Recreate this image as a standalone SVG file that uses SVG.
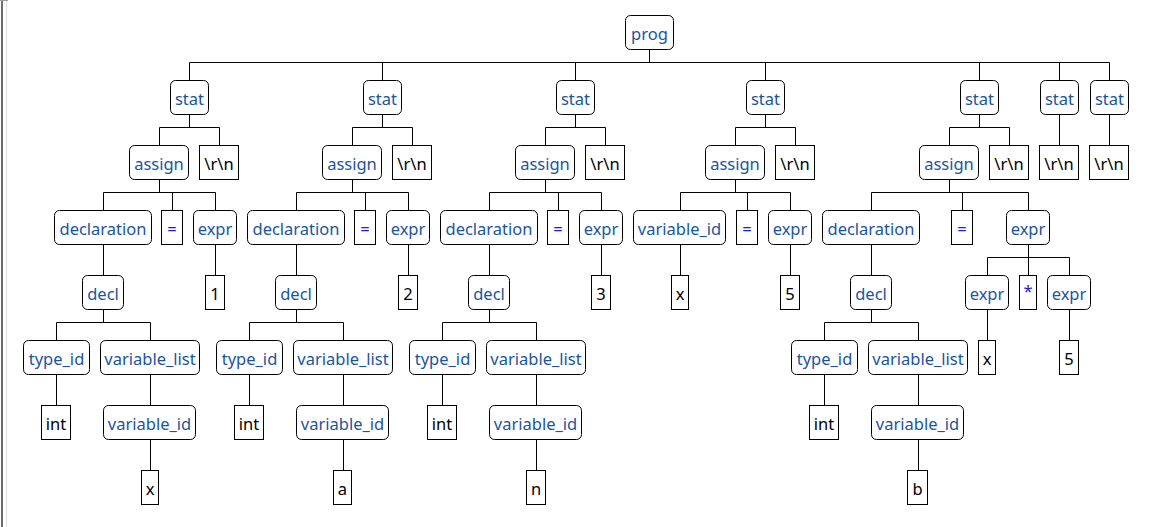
<svg xmlns="http://www.w3.org/2000/svg" width="1173" height="527" viewBox="0 0 1173 527">
<style>
.r{fill:#fff;stroke:#000;stroke-width:1}
.t{fill:#fff;stroke:#000;stroke-width:1}
text{font-family:"Noto Sans","Open Sans",sans-serif;font-size:16.5px;text-anchor:middle}
.rt{fill:#1a559e}
.tt{fill:#000}
.op{fill:#1a1ae6}
#connectors path{fill:none;stroke:#000;stroke-width:1}
</style>
<rect x="0" y="0" width="1173" height="527" fill="#fff"/>
<g id="frame">
<rect x="1" y="0" width="2" height="527" fill="#6e6e6e"/>
<rect x="6" y="0" width="1" height="527" fill="#e0e0e0"/>
<rect x="0" y="0" width="8" height="1" fill="#a0a0a0"/>
</g>
<g id="connectors">
<path d="M649.5 49.5V62.5M189.5 62.5H1109.5M189.5 62.5V80.5M382.5 62.5V80.5M575.5 62.5V80.5M765.5 62.5V80.5M979.5 62.5V80.5M1059.5 62.5V80.5M1109.5 62.5V80.5"/>
<path d="M189.5 114.5V127.5M159.5 127.5H219.5M159.5 127.5V145.5M219.5 127.5V145.5"/>
<path d="M382.5 114.5V127.5M352.5 127.5H412.5M352.5 127.5V145.5M412.5 127.5V145.5"/>
<path d="M575.5 114.5V127.5M545.5 127.5H605.5M545.5 127.5V145.5M605.5 127.5V145.5"/>
<path d="M765.5 114.5V127.5M735.5 127.5H795.5M735.5 127.5V145.5M795.5 127.5V145.5"/>
<path d="M979.5 114.5V127.5M949.5 127.5H1009.5M949.5 127.5V145.5M1009.5 127.5V145.5"/>
<path d="M1059.5 114.5V145.5M1109.5 114.5V145.5"/>
<path d="M159.5 179.5V192.5M103.5 192.5H215.5M103.5 192.5V210.5M172.5 192.5V210.5M215.5 192.5V210.5"/>
<path d="M352.5 179.5V192.5M296.5 192.5H408.5M296.5 192.5V210.5M365.5 192.5V210.5M408.5 192.5V210.5"/>
<path d="M545.5 179.5V192.5M489.5 192.5H601.5M489.5 192.5V210.5M558.5 192.5V210.5M601.5 192.5V210.5"/>
<path d="M735.5 179.5V192.5M680.5 192.5H790.5M680.5 192.5V210.5M747.5 192.5V210.5M790.5 192.5V210.5"/>
<path d="M949.5 179.5V192.5M871.5 192.5H1028.5M871.5 192.5V210.5M962.5 192.5V210.5M1028.5 192.5V210.5"/>
<path d="M103.5 244.5V275.5M215.5 244.5V275.5M296.5 244.5V275.5M408.5 244.5V275.5M489.5 244.5V275.5M601.5 244.5V275.5M680.5 244.5V275.5M790.5 244.5V275.5M871.5 244.5V275.5"/>
<path d="M1028.5 244.5V257.5M987.5 257.5H1069.5M987.5 257.5V275.5M1028.5 257.5V275.5M1069.5 257.5V275.5"/>
<path d="M103.5 309.5V322.5M56.5 322.5H150.5M56.5 322.5V340.5M150.5 322.5V340.5"/>
<path d="M296.5 309.5V322.5M249.5 322.5H343.5M249.5 322.5V340.5M343.5 322.5V340.5"/>
<path d="M489.5 309.5V322.5M442.5 322.5H536.5M442.5 322.5V340.5M536.5 322.5V340.5"/>
<path d="M871.5 309.5V322.5M824.5 322.5H918.5M824.5 322.5V340.5M918.5 322.5V340.5"/>
<path d="M987.5 309.5V340.5M1069.5 309.5V340.5"/>
<path d="M56.5 374.5V405.5M150.5 374.5V405.5M249.5 374.5V405.5M343.5 374.5V405.5M442.5 374.5V405.5M536.5 374.5V405.5M824.5 374.5V405.5M918.5 374.5V405.5"/>
<path d="M150.5 439.5V470.5M343.5 439.5V470.5M536.5 439.5V470.5M918.5 439.5V470.5"/>
</g>
<g id="prog"><rect class="r" x="625.5" y="15.5" width="48" height="34" rx="5"/><text class="rt" x="649.5" y="40">prog</text></g>
<g id="stat1"><rect class="r" x="170.5" y="80.5" width="38" height="34" rx="5"/><text class="rt" x="189.5" y="105">stat</text></g>
<g id="stat2"><rect class="r" x="363.5" y="80.5" width="38" height="34" rx="5"/><text class="rt" x="382.5" y="105">stat</text></g>
<g id="stat3"><rect class="r" x="556.5" y="80.5" width="38" height="34" rx="5"/><text class="rt" x="575.5" y="105">stat</text></g>
<g id="stat4"><rect class="r" x="746.5" y="80.5" width="38" height="34" rx="5"/><text class="rt" x="765.5" y="105">stat</text></g>
<g id="stat5"><rect class="r" x="960.5" y="80.5" width="38" height="34" rx="5"/><text class="rt" x="979.5" y="105">stat</text></g>
<g id="stat6"><rect class="r" x="1040.5" y="80.5" width="38" height="34" rx="5"/><text class="rt" x="1059.5" y="105">stat</text></g>
<g id="stat7"><rect class="r" x="1090.5" y="80.5" width="38" height="34" rx="5"/><text class="rt" x="1109.5" y="105">stat</text></g>
<g id="assign1"><rect class="r" x="129.5" y="145.5" width="59" height="34" rx="5"/><text class="rt" x="159" y="170">assign</text></g>
<g id="nl1"><rect class="t" x="199.5" y="145.5" width="39" height="34"/><text class="tt" x="219" y="170">\r\n</text></g>
<g id="assign2"><rect class="r" x="322.5" y="145.5" width="59" height="34" rx="5"/><text class="rt" x="352" y="170">assign</text></g>
<g id="nl2"><rect class="t" x="392.5" y="145.5" width="39" height="34"/><text class="tt" x="412" y="170">\r\n</text></g>
<g id="assign3"><rect class="r" x="515.5" y="145.5" width="59" height="34" rx="5"/><text class="rt" x="545" y="170">assign</text></g>
<g id="nl3"><rect class="t" x="585.5" y="145.5" width="39" height="34"/><text class="tt" x="605" y="170">\r\n</text></g>
<g id="assign4"><rect class="r" x="705.5" y="145.5" width="59" height="34" rx="5"/><text class="rt" x="735" y="170">assign</text></g>
<g id="nl4"><rect class="t" x="775.5" y="145.5" width="39" height="34"/><text class="tt" x="795" y="170">\r\n</text></g>
<g id="assign5"><rect class="r" x="919.5" y="145.5" width="59" height="34" rx="5"/><text class="rt" x="949" y="170">assign</text></g>
<g id="nl5"><rect class="t" x="989.5" y="145.5" width="39" height="34"/><text class="tt" x="1009" y="170">\r\n</text></g>
<g id="nl6"><rect class="t" x="1039.5" y="145.5" width="39" height="34"/><text class="tt" x="1059" y="170">\r\n</text></g>
<g id="nl7"><rect class="t" x="1089.5" y="145.5" width="39" height="34"/><text class="tt" x="1109" y="170">\r\n</text></g>
<g id="declaration1"><rect class="r" x="54.5" y="210.5" width="97" height="34" rx="5"/><text class="rt" x="103" y="235">declaration</text></g>
<g id="eq1"><rect class="t" x="161.5" y="210.5" width="21" height="34"/><text class="op" x="172" y="235">=</text></g>
<g id="expr1"><rect class="r" x="193.5" y="210.5" width="43" height="34" rx="5"/><text class="rt" x="215" y="235">expr</text></g>
<g id="declaration2"><rect class="r" x="247.5" y="210.5" width="97" height="34" rx="5"/><text class="rt" x="296" y="235">declaration</text></g>
<g id="eq2"><rect class="t" x="354.5" y="210.5" width="21" height="34"/><text class="op" x="365" y="235">=</text></g>
<g id="expr2"><rect class="r" x="386.5" y="210.5" width="43" height="34" rx="5"/><text class="rt" x="408" y="235">expr</text></g>
<g id="declaration3"><rect class="r" x="440.5" y="210.5" width="97" height="34" rx="5"/><text class="rt" x="489" y="235">declaration</text></g>
<g id="eq3"><rect class="t" x="547.5" y="210.5" width="21" height="34"/><text class="op" x="558" y="235">=</text></g>
<g id="expr3"><rect class="r" x="579.5" y="210.5" width="43" height="34" rx="5"/><text class="rt" x="601" y="235">expr</text></g>
<g id="variable_id4"><rect class="r" x="633.5" y="210.5" width="92" height="34" rx="5"/><text class="rt" x="679.5" y="235">variable_id</text></g>
<g id="eq4"><rect class="t" x="736.5" y="210.5" width="21" height="34"/><text class="op" x="747" y="235">=</text></g>
<g id="expr4"><rect class="r" x="768.5" y="210.5" width="43" height="34" rx="5"/><text class="rt" x="790" y="235">expr</text></g>
<g id="declaration5"><rect class="r" x="822.5" y="210.5" width="97" height="34" rx="5"/><text class="rt" x="871" y="235">declaration</text></g>
<g id="eq5"><rect class="t" x="951.5" y="210.5" width="21" height="34"/><text class="op" x="962" y="235">=</text></g>
<g id="expr5"><rect class="r" x="1006.5" y="210.5" width="43" height="34" rx="5"/><text class="rt" x="1028" y="235">expr</text></g>
<g id="decl1"><rect class="r" x="82.5" y="275.5" width="41" height="34" rx="5"/><text class="rt" x="103" y="300">decl</text></g>
<g id="num1"><rect class="t" x="205.5" y="275.5" width="19" height="34"/><text class="tt" x="215" y="300">1</text></g>
<g id="decl2"><rect class="r" x="275.5" y="275.5" width="41" height="34" rx="5"/><text class="rt" x="296" y="300">decl</text></g>
<g id="num2"><rect class="t" x="398.5" y="275.5" width="19" height="34"/><text class="tt" x="408" y="300">2</text></g>
<g id="decl3"><rect class="r" x="468.5" y="275.5" width="41" height="34" rx="5"/><text class="rt" x="489" y="300">decl</text></g>
<g id="num3"><rect class="t" x="591.5" y="275.5" width="19" height="34"/><text class="tt" x="601" y="300">3</text></g>
<g id="x4"><rect class="t" x="671.5" y="275.5" width="17" height="34"/><text class="tt" x="680" y="300">x</text></g>
<g id="num5a"><rect class="t" x="780.5" y="275.5" width="19" height="34"/><text class="tt" x="790" y="300">5</text></g>
<g id="decl5"><rect class="r" x="850.5" y="275.5" width="41" height="34" rx="5"/><text class="rt" x="871" y="300">decl</text></g>
<g id="expr6"><rect class="r" x="965.5" y="275.5" width="43" height="34" rx="5"/><text class="rt" x="987" y="300">expr</text></g>
<g id="mul"><rect class="t" x="1019.5" y="275.5" width="17" height="34"/><text class="op" x="1028" y="297">*</text></g>
<g id="expr7"><rect class="r" x="1047.5" y="275.5" width="43" height="34" rx="5"/><text class="rt" x="1069" y="300">expr</text></g>
<g id="type_id1"><rect class="r" x="23.5" y="340.5" width="66" height="34" rx="5"/><text class="rt" x="56.5" y="365">type_id</text></g>
<g id="variable_list1"><rect class="r" x="100.5" y="340.5" width="99" height="34" rx="5"/><text class="rt" x="150" y="365">variable_list</text></g>
<g id="type_id2"><rect class="r" x="216.5" y="340.5" width="66" height="34" rx="5"/><text class="rt" x="249.5" y="365">type_id</text></g>
<g id="variable_list2"><rect class="r" x="293.5" y="340.5" width="99" height="34" rx="5"/><text class="rt" x="343" y="365">variable_list</text></g>
<g id="type_id3"><rect class="r" x="409.5" y="340.5" width="66" height="34" rx="5"/><text class="rt" x="442.5" y="365">type_id</text></g>
<g id="variable_list3"><rect class="r" x="486.5" y="340.5" width="99" height="34" rx="5"/><text class="rt" x="536" y="365">variable_list</text></g>
<g id="type_id5"><rect class="r" x="791.5" y="340.5" width="66" height="34" rx="5"/><text class="rt" x="824.5" y="365">type_id</text></g>
<g id="variable_list5"><rect class="r" x="868.5" y="340.5" width="99" height="34" rx="5"/><text class="rt" x="918" y="365">variable_list</text></g>
<g id="x6"><rect class="t" x="978.5" y="340.5" width="17" height="34"/><text class="tt" x="987" y="365">x</text></g>
<g id="num5b"><rect class="t" x="1059.5" y="340.5" width="19" height="34"/><text class="tt" x="1069" y="365">5</text></g>
<g id="int1"><rect class="t" x="41.5" y="405.5" width="29" height="34"/><text class="tt" x="56" y="430">int</text></g>
<g id="variable_id1"><rect class="r" x="103.5" y="405.5" width="92" height="34" rx="5"/><text class="rt" x="149.5" y="430">variable_id</text></g>
<g id="int2"><rect class="t" x="234.5" y="405.5" width="29" height="34"/><text class="tt" x="249" y="430">int</text></g>
<g id="variable_id2"><rect class="r" x="296.5" y="405.5" width="92" height="34" rx="5"/><text class="rt" x="342.5" y="430">variable_id</text></g>
<g id="int3"><rect class="t" x="427.5" y="405.5" width="29" height="34"/><text class="tt" x="442" y="430">int</text></g>
<g id="variable_id3"><rect class="r" x="489.5" y="405.5" width="92" height="34" rx="5"/><text class="rt" x="535.5" y="430">variable_id</text></g>
<g id="int5"><rect class="t" x="809.5" y="405.5" width="29" height="34"/><text class="tt" x="824" y="430">int</text></g>
<g id="variable_id5"><rect class="r" x="871.5" y="405.5" width="92" height="34" rx="5"/><text class="rt" x="917.5" y="430">variable_id</text></g>
<g id="x1"><rect class="t" x="141.5" y="470.5" width="17" height="34"/><text class="tt" x="150" y="495">x</text></g>
<g id="a"><rect class="t" x="333.5" y="470.5" width="18" height="34"/><text class="tt" x="342.5" y="495">a</text></g>
<g id="n"><rect class="t" x="526.5" y="470.5" width="19" height="34"/><text class="tt" x="536" y="495">n</text></g>
<g id="b"><rect class="t" x="907.5" y="470.5" width="20" height="34"/><text class="tt" x="917.5" y="495">b</text></g>
</svg>
